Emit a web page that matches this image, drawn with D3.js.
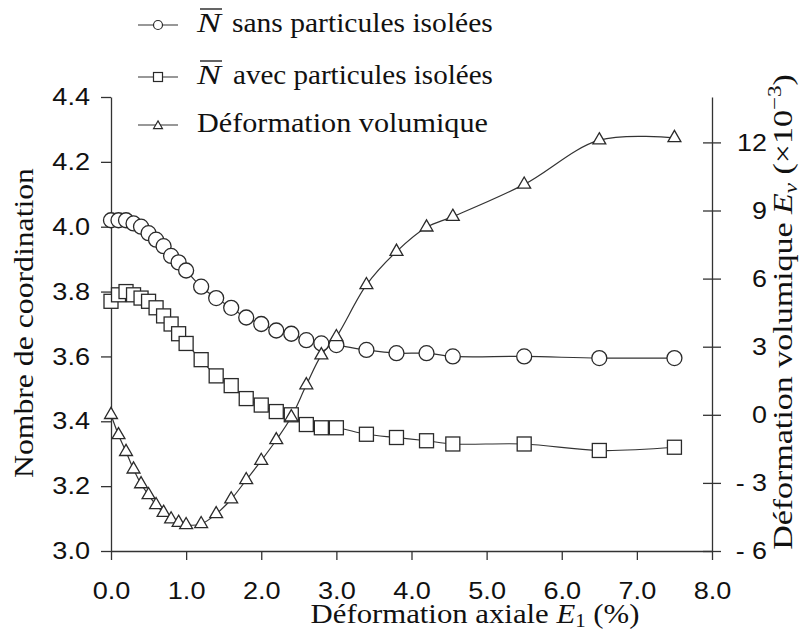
<!DOCTYPE html>
<html><head><meta charset="utf-8">
<script src="https://cdn.jsdelivr.net/npm/d3@7"></script>
</head>
<body style="margin:0;background:#fff">
<svg id="chart" width="800" height="633" style="display:block"></svg>
<script>
// ---- data ----
const strain = [0,0.1,0.2,0.3,0.4,0.5,0.6,0.7,0.8,0.9,1.0,1.2,1.4,1.6,1.8,2.0,2.2,2.4,2.6,2.8,3.0,3.4,3.8,4.2,4.55,5.5,6.5,7.5];
const nSans = [4.02,4.02,4.02,4.01,4.00,3.98,3.96,3.94,3.91,3.89,3.865,3.815,3.78,3.75,3.72,3.70,3.68,3.67,3.65,3.64,3.635,3.62,3.61,3.61,3.60,3.60,3.595,3.595];
const nAvec = [3.77,3.79,3.80,3.79,3.78,3.77,3.75,3.725,3.70,3.67,3.64,3.59,3.54,3.51,3.47,3.45,3.43,3.42,3.39,3.38,3.38,3.36,3.35,3.34,3.33,3.33,3.31,3.32];
const volStrain = [0.0,-0.89,-1.63,-2.40,-3.05,-3.53,-3.97,-4.31,-4.60,-4.75,-4.85,-4.81,-4.37,-3.72,-2.87,-2.02,-1.11,-0.1,1.31,2.63,3.43,5.72,7.19,8.26,8.73,10.15,12.1,12.2];
const xTicks = [0,1,2,3,4,5,6,7,8];
const yLeftTicks = [3.0,3.2,3.4,3.6,3.8,4.0,4.2,4.4];
const yRightTicks = [-6,-3,0,3,6,9,12];
const legendLabels = ["sans particules isolées","avec particules isolées","Déformation volumique"];

const SERIF = "Liberation Serif";
const SANS = "Liberation Sans";
const ink = "#2a2a2a";

function draw(){
const svg = d3.select("#chart");
svg.selectAll("*").remove();

const x = d3.scaleLinear().domain([0,8]).range([111,712]);
const yL = d3.scaleLinear().domain([3.0,4.4]).range([551,97]);
const yR = d3.scaleLinear().domain([-6,14]).range([551,97]);

function fit(sel, base, target){
  const w = sel.node().getComputedTextLength();
  sel.attr("transform", base + (w>0 ? ` scale(${target/w},1)` : ""));
}
function styleAxis(g){
  g.attr("font-family",SANS).attr("font-size",24);
  g.select(".domain").attr("stroke","#333").attr("stroke-width",1.3);
  g.selectAll(".tick line").attr("stroke","#333").attr("stroke-width",1.3);
  g.selectAll(".tick text").attr("fill","#111").attr("font-family",SANS).style("font-family",SANS);
}
function stretchTicks(g, f, tx, ty){
  g.selectAll(".tick text").attr("x",0).attr("y",0)
    .attr("transform",`translate(${tx},${ty}) scale(${f},1)`);
}

const gx = svg.append("g").attr("transform","translate(0,551)")
  .call(d3.axisBottom(x).tickValues(xTicks).tickFormat(d3.format(".1f")).tickSize(9).tickSizeOuter(0));
styleAxis(gx);
gx.selectAll(".tick text").attr("dy",0);
stretchTicks(gx,1.13,0,48);

const gl = svg.append("g").attr("transform","translate(111,0)")
  .call(d3.axisLeft(yL).tickValues(yLeftTicks).tickFormat(d3.format(".1f")).tickSize(10).tickPadding(11).tickSizeOuter(0));
styleAxis(gl);
stretchTicks(gl,1.13,-21,0);

const gr = svg.append("g").attr("transform","translate(712,0)")
  .call(d3.axisRight(yR).tickValues(yRightTicks).tickFormat(d => d<0 ? "- "+Math.abs(d) : String(d)).tickSize(9).tickSizeOuter(0));
styleAxis(gr);
gr.selectAll(".tick line").attr("x1",-9).attr("x2",9);
gr.selectAll(".tick text").attr("text-anchor","end");
stretchTicks(gr,1.12,55,0);

const sansPts = strain.map((e,i)=>({e, v:nSans[i]}));
const avecPts = strain.map((e,i)=>({e, v:nAvec[i]}));
const volPts = strain.map((e,i)=>({e, v:volStrain[i]}));

const lineL = d3.line().x(d=>x(d.e)).y(d=>yL(d.v)).curve(d3.curveCatmullRom.alpha(0.5));
const lineR = d3.line().x(d=>x(d.e)).y(d=>yR(d.v)).curve(d3.curveCatmullRom.alpha(0.5));

const plot = svg.append("g");
[[sansPts,lineL],[avecPts,lineL],[volPts,lineR]].forEach(([pts,ln])=>{
  plot.append("path").datum(pts).attr("d",ln).attr("fill","none").attr("stroke","#333").attr("stroke-width",1.2);
});
plot.selectAll("circle.m").data(sansPts).join("circle").attr("class","m")
  .attr("cx",d=>x(d.e)).attr("cy",d=>yL(d.v)).attr("r",7.5)
  .attr("fill","#fff").attr("stroke",ink).attr("stroke-width",1.3);
plot.selectAll("rect.m").data(avecPts).join("rect").attr("class","m")
  .attr("x",d=>x(d.e)-7).attr("y",d=>yL(d.v)-7).attr("width",14).attr("height",14)
  .attr("fill","#fff").attr("stroke",ink).attr("stroke-width",1.3);
const tri = d3.symbol(d3.symbolTriangle, 72);
plot.selectAll("path.m").data(volPts).join("path").attr("class","m")
  .attr("transform",d=>`translate(${x(d.e)},${yR(d.v)})`).attr("d",tri)
  .attr("fill","#fff").attr("stroke",ink).attr("stroke-width",1.3);

const rowY = [25,77,125];
const lg = svg.append("g");
rowY.forEach((yy,i)=>{
  lg.append("line").attr("x1",138).attr("x2",178).attr("y1",yy).attr("y2",yy).attr("stroke","#333").attr("stroke-width",1.2);
  if(i===0) lg.append("circle").attr("cx",158).attr("cy",yy).attr("r",4.5).attr("fill","#fff").attr("stroke",ink).attr("stroke-width",1.2);
  if(i===1) lg.append("rect").attr("x",153.5).attr("y",yy-4.5).attr("width",9).attr("height",9).attr("fill","#fff").attr("stroke",ink).attr("stroke-width",1.2);
  if(i===2) lg.append("path").attr("transform",`translate(158,${yy+1})`).attr("d",d3.symbol(d3.symbolTriangle,34)).attr("fill","#fff").attr("stroke",ink).attr("stroke-width",1.2);
});
const base = [32,84,132];
function serifText(parent){
  return parent.append("text").attr("font-family",SERIF).style("font-family",SERIF).attr("font-size",28).attr("fill","#111");
}
[0,1].forEach(i=>{
  const t = serifText(lg).attr("font-style","italic").text("N");
  fit(t, `translate(197,${base[i]})`, 24);
  lg.append("line").attr("x1",200).attr("x2",222).attr("y1",base[i]-23).attr("y2",base[i]-23).attr("stroke","#111").attr("stroke-width",1.3);
  const t2 = serifText(lg).text(legendLabels[i]);
  fit(t2, `translate(${[232,233][i]},${base[i]})`, [261,260][i]);
});
const t3 = serifText(lg).text(legendLabels[2]);
fit(t3, `translate(197,${base[2]})`, 291);

const ytl = serifText(svg).attr("text-anchor","middle").text("Nombre de coordination");
fit(ytl, "translate(33,323) rotate(-90)", 310);

const xt = serifText(svg).attr("text-anchor","middle");
xt.append("tspan").text("Déformation axiale ");
xt.append("tspan").attr("font-style","italic").text("E");
xt.append("tspan").attr("dy",4).attr("font-size",19).text("1");
xt.append("tspan").attr("dy",-4).text(" (%)");
fit(xt, "translate(475,623)", 329);

const rt = serifText(svg).attr("text-anchor","middle");
rt.append("tspan").text("Déformation volumique ");
rt.append("tspan").attr("font-style","italic").text("E");
rt.append("tspan").attr("dy",5).attr("font-size",19).attr("font-style","italic").text("v");
rt.append("tspan").attr("dy",-5).text(" (×10");
rt.append("tspan").attr("dy",-11).attr("font-size",19).text("−3");
rt.append("tspan").attr("dy",11).text(")");
fit(rt, "translate(792,312) rotate(-90)", 476);
}

draw();
if (document.fonts && document.fonts.load) {
  Promise.all([
    document.fonts.load("28px 'Liberation Serif'"),
    document.fonts.load("italic 28px 'Liberation Serif'"),
    document.fonts.load("24px 'Liberation Sans'")
  ]).then(draw).catch(()=>{});
}
</script>
</body></html>
